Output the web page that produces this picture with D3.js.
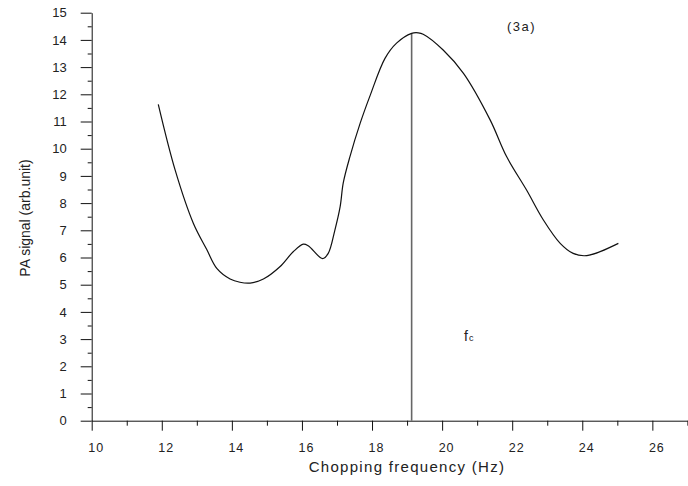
<!DOCTYPE html>
<html>
<head>
<meta charset="utf-8">
<script src="https://cdn.jsdelivr.net/npm/d3@7"></script>
<style>
  body { margin: 0; background: #fff; }
  svg text { font-family: "Liberation Sans", Arial, sans-serif; fill: #222; }
</style>
</head>
<body>
<div id="graph"></div>
<script>
// chopping frequency (Hz) vs PA signal
var freq = [11.90, 12.38, 12.90, 13.28, 13.57, 13.95, 14.23, 14.52, 14.90,
  15.37, 15.75, 16.04, 16.18, 16.59, 16.75, 16.94, 17.09, 17.18, 17.37,
  17.66, 17.95, 18.37, 18.70, 19.13, 19.32, 19.46, 20.03, 20.61, 21.37,
  21.84, 22.41, 22.89, 23.37, 23.74, 24.13, 25.03]
var signal = [11.63, 9.22, 7.26, 6.30, 5.60, 5.21, 5.09, 5.06, 5.21,
  5.66, 6.21, 6.49, 6.43, 5.96, 6.15, 7.01, 7.87, 8.75, 9.71,
  10.93, 11.97, 13.32, 13.88, 14.24, 14.26, 14.21, 13.63, 12.77, 11.06,
  9.71, 8.48, 7.38, 6.52, 6.15, 6.07, 6.52]

var fc = 19.13
var fcTop = 14.24

var xMajor = [10, 12, 14, 16, 18, 20, 22, 24, 26]
var xMinor = [11, 13, 15, 17, 19, 21, 23, 25, 27]
var yMajor = d3.range(0, 16)
var yMinor = d3.range(0.5, 15, 1)

var data = freq.map((f, i) => ({x: f, y: signal[i]}))

var width = 688, height = 486

var svg = d3.select('#graph').append('svg')
  .attr('width', width)
  .attr('height', height)

var x = d3.scaleLinear().domain([10, 27]).range([91.7, 687.4])
var y = d3.scaleLinear().domain([0, 15]).range([420.7, 12.7])

// x axis: minor ticks first, then labelled major ticks
svg.append('g')
  .attr('transform', `translate(0,${y(0)})`)
  .call(d3.axisBottom(x).tickValues(xMinor).tickSize(5).tickSizeOuter(0).tickFormat(''))
  .call(g => g.select('.domain').remove())

var xg = svg.append('g')
  .attr('transform', `translate(0,${y(0)})`)
  .call(d3.axisBottom(x).tickValues(xMajor).tickSize(10).tickSizeOuter(0).tickPadding(12))
xg.selectAll('text')
  .attr('dx', 4)
  .style('font-size', '12.5px')
  .style('letter-spacing', '1px')
  .style('font-family', '"Liberation Sans", Arial, sans-serif')
  .attr('fill', '#222')

// y axis
svg.append('g')
  .attr('transform', `translate(${x(10)},0)`)
  .call(d3.axisLeft(y).tickValues(yMinor).tickSize(4).tickSizeOuter(0).tickFormat(''))
  .call(g => g.select('.domain').remove())

var yg = svg.append('g')
  .attr('transform', `translate(${x(10)},0)`)
  .call(d3.axisLeft(y).tickValues(yMajor).tickSize(11).tickSizeOuter(0).tickPadding(14))
yg.selectAll('text')
  .style('font-size', '13px')
  .style('font-family', '"Liberation Sans", Arial, sans-serif')
  .attr('fill', '#222')

svg.selectAll('.tick line').attr('stroke', '#111')
svg.selectAll('.domain').attr('stroke', '#111')

// fc marker
svg.append('line')
  .attr('x1', x(fc)).attr('x2', x(fc))
  .attr('y1', y(fcTop)).attr('y2', y(0))
  .attr('stroke', '#666')
  .attr('stroke-width', 1.6)

// curve
var line = d3.line()
  .x(d => x(d.x))
  .y(d => y(d.y))
  .curve(d3.curveCatmullRom.alpha(0.5))

svg.append('path')
  .attr('d', line(data))
  .attr('fill', 'none')
  .attr('stroke', '#111')
  .attr('stroke-width', 1.2)

// labels
svg.append('text')
  .attr('x', 407).attr('y', 472)
  .attr('text-anchor', 'middle')
  .style('font-size', '15px')
  .style('letter-spacing', '1.3px')
  .text('Chopping frequency (Hz)')

svg.append('text')
  .attr('transform', 'translate(30,218) rotate(-90)')
  .attr('text-anchor', 'middle')
  .style('font-size', '14px')
  .text('PA signal (arb.unit)')

svg.append('text')
  .attr('x', 507).attr('y', 31)
  .style('font-size', '13px')
  .style('letter-spacing', '1.5px')
  .text('(3a)')

var fcLabel = svg.append('text')
  .attr('x', 464).attr('y', 341)
  .style('font-size', '14px')
fcLabel.append('tspan').text('f')
fcLabel.append('tspan').style('font-size', '9px').attr('dx', 1).text('c')
</script>
</body>
</html>
